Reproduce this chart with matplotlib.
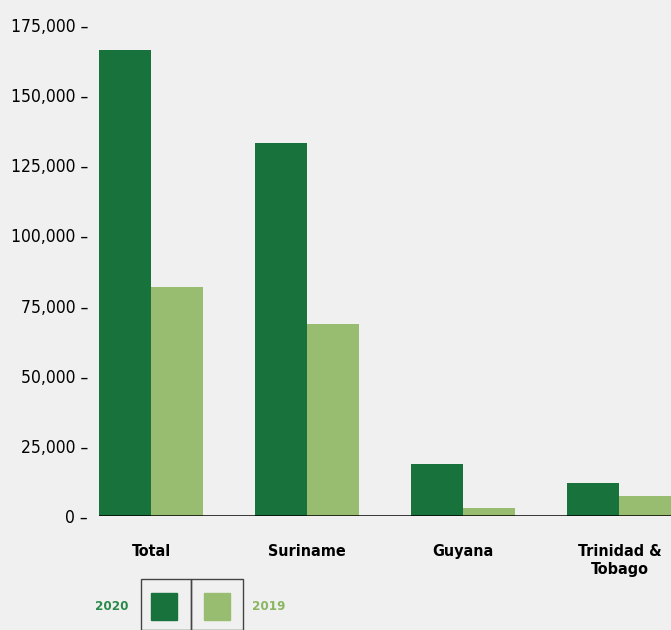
import matplotlib.pyplot as plt
import numpy as np
from matplotlib.patches import Rectangle

countries = ["Total", "Suriname", "Guyana", "Trinidad &\nTobago"]
values_2020 = [166000, 133000, 18500, 11800]
values_2019 = [81600, 68400, 2900, 7100]
y_ticks = [0, 25000, 50000, 75000, 100000, 125000, 150000, 175000]

dark_green = "#17723c"
light_green = "#98bd70"
bg = "#f0f0f0"
font = ["DejaVu Sans"]

W, H = 671, 630
fig = plt.figure(figsize=(W / 100, H / 100), dpi=100, facecolor=bg)
ax = fig.add_axes([99 / W, (H - 516) / H, (W - 99) / W, (516 - 25) / H])
ax.set_facecolor(bg)

x = np.arange(len(countries))
bw = 1 / 3
ax.bar(x - bw / 2, values_2020, bw, color=dark_green, zorder=2)
ax.bar(x + bw / 2, values_2019, bw, color=light_green, zorder=2)
ax.axhline(0, color="black", lw=1.8, zorder=3)

ax.set_xlim(-1 / 3, 3.33)
ax.set_ylim(0, 175000)
for s in ax.spines.values():
    s.set_visible(False)

ax.set_yticks(y_ticks)
ax.set_yticklabels([f"{v:,} \u2013" for v in y_ticks], family=font,
                   stretch="condensed", fontsize=12.5)
ax.tick_params(axis="y", length=0, pad=8)
ax.set_xticks(x)
ax.set_xticklabels(countries, family=font, stretch="condensed", fontsize=11.5,
                   fontweight="bold", va="top", linespacing=1.3)
ax.tick_params(axis="x", length=0, pad=20)

# legend
fig.text(129 / W, 1 - 606 / H, "2020", color="#2a8a4a", family=font,
         stretch="condensed", fontsize=9.5, fontweight="bold", ha="right", va="center")
fig.text(252 / W, 1 - 606 / H, "2019", color="#8ab661", family=font,
         stretch="condensed", fontsize=9.5, fontweight="bold", ha="left", va="center")
for x0, x1 in [(141, 191), (191, 243)]:
    fig.patches.append(Rectangle((x0 / W, 0), (x1 - x0) / W, (630 - 579) / H,
                                 transform=fig.transFigure, fill=False,
                                 edgecolor="#444444", lw=1))
for x0, c in [(151, dark_green), (204, light_green)]:
    fig.patches.append(Rectangle((x0 / W, (630 - 620) / H), 26 / W, 27 / H,
                                 transform=fig.transFigure, color=c))

fig.savefig("out.png", dpi=100, facecolor=bg)
